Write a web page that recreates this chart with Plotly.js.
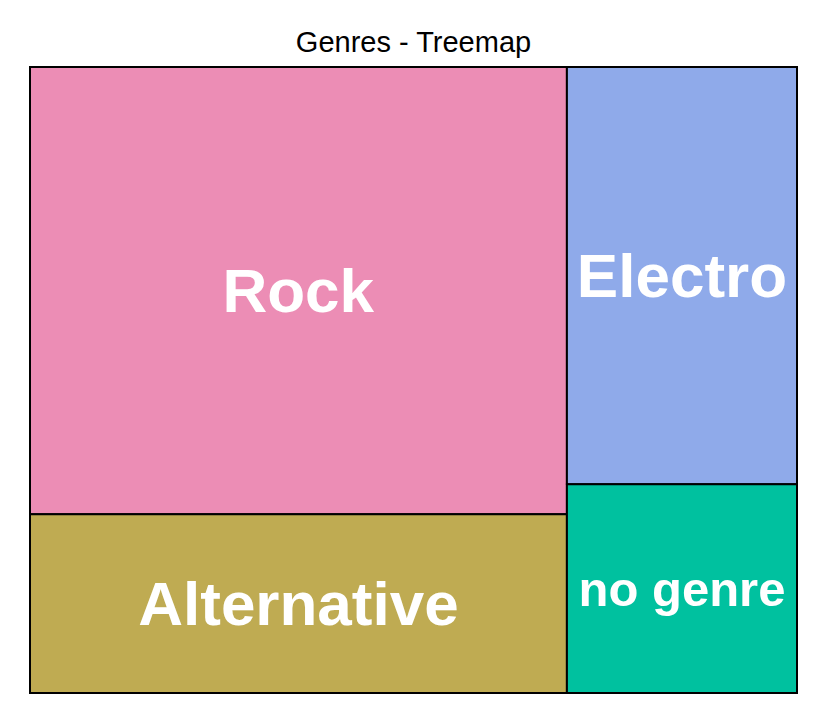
<!DOCTYPE html>
<html><head><meta charset="utf-8">
<script src="https://cdn.plot.ly/plotly-3.0.1.min.js"></script>
<style>body{margin:0;background:#fff}</style>
</head><body>
<div id="chart" style="width:827px;height:709px"></div>
<script>
var genres = ["Rock", "Alternative", "Electro", "no genre"];
var genreShares = [50, 20, 20, 10];
var genreParents = ["", "", "", ""];
var genreColors = ["#EC8DB5", "#BFAB52", "#8FAAEA", "#00C19F"];
var labelSizes = [62, 62, 62, 49];

var trace = {
  type: "treemap",
  labels: genres,
  parents: genreParents,
  values: genreShares,
  sort: false,
  textinfo: "label",
  textposition: "middle center",
  textfont: {family: "Liberation Sans, Arial, sans-serif", size: labelSizes, color: "#ffffff", weight: "bold"},
  marker: {colors: genreColors, line: {color: "#000000", width: 2}, pad: {t: 0, l: 0, r: 0, b: 0}},
  tiling: {pad: 0, packing: "squarify", squarifyratio: 1.618034},
  pathbar: {visible: false},
  hoverinfo: "label+value"
};
var layout = {
  width: 827, height: 709,
  margin: {l: 30, r: 30, t: 67, b: 16},
  paper_bgcolor: "#ffffff",
  title: {text: "Genres - Treemap", x: 0.5, xanchor: "center", y: 0.9415, yanchor: "middle",
          font: {family: "Liberation Sans, Arial, sans-serif", size: 29, color: "#000000"}},
  showlegend: false
};
Plotly.newPlot("chart", [trace], layout, {displayModeBar: false});
</script>
</body></html>
